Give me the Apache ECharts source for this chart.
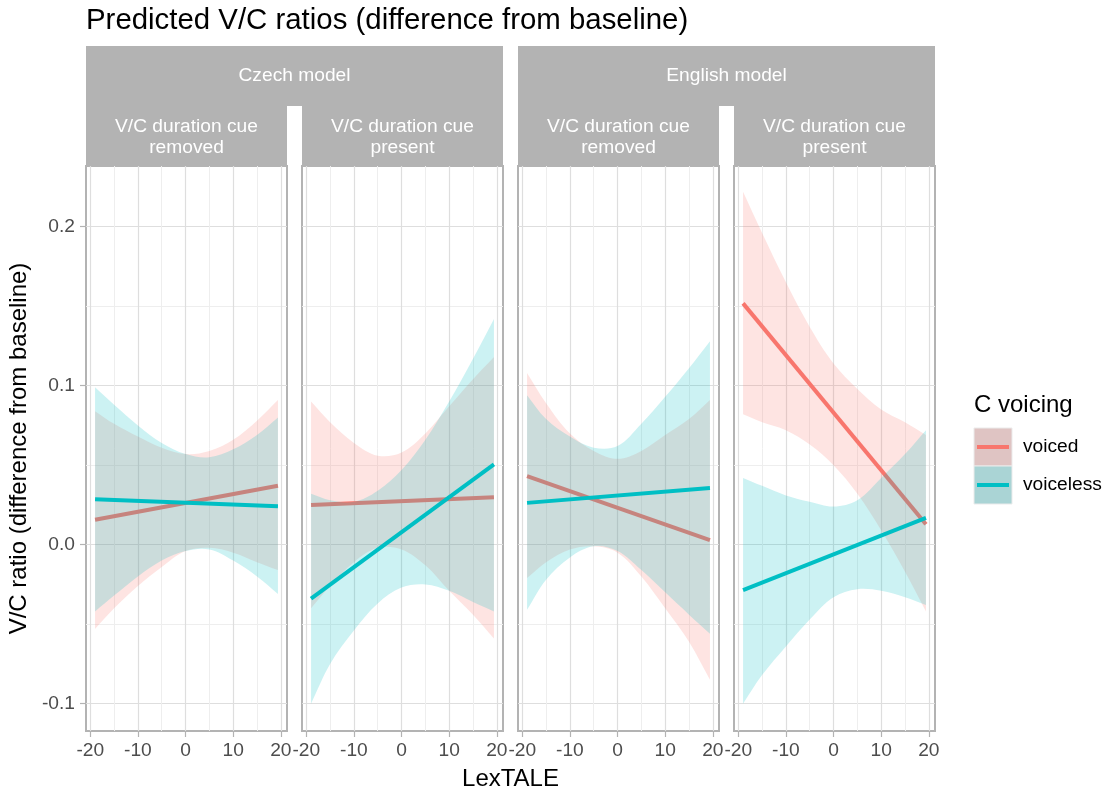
<!DOCTYPE html>
<html>
<head>
<meta charset="utf-8">
<script src="https://cdn.jsdelivr.net/npm/echarts@6.0.0/dist/echarts.min.js"></script>
<style>
html,body{margin:0;padding:0;background:#ffffff;}
#chart{width:1113px;height:791px;}
</style>
</head>
<body>
<div id="chart"></div>
<script>
// ---------------- data ----------------
const lexTALE = [-19.0, -15, -10, -5, 0, 5, 10, 15, 19.4];
const xTickLabels = [-20, -10, 0, 10, 20];
const xMinorBreaks = [-15, -5, 5, 15];
const yTickLabels = [-0.1, 0, 0.1, 0.2];
const yMinorBreaks = [-0.05, 0.05, 0.15];
const modelNames = ['Czech model', 'English model'];
const cueNames = ['V/C duration cue\nremoved', 'V/C duration cue\npresent'];
const voicingNames = ['voiced', 'voiceless'];
const legendTitle = 'C voicing';
const chartTitle = 'Predicted V/C ratios (difference from baseline)';
const xTitle = 'LexTALE';
const yTitle = 'V/C ratio (difference from baseline)';

// Czech model, cue removed
const czRemVoicedFit = [0.0157, 0.0371];
const czRemVoicedHi = [0.084, 0.076, 0.068, 0.061, 0.057, 0.059, 0.066, 0.078, 0.091];
const czRemVoicedLo = [-0.053, -0.040, -0.026, -0.014, -0.004, -0.002, -0.005, -0.011, -0.016];
const czRemVoicelessFit = [0.0286, 0.0241];
const czRemVoicelessHi = [0.099, 0.088, 0.075, 0.064, 0.057, 0.055, 0.060, 0.069, 0.080];
const czRemVoicelessLo = [-0.042, -0.032, -0.020, -0.010, -0.004, -0.003, -0.010, -0.020, -0.031];

// Czech model, cue present
const czPreVoicedFit = [0.0249, 0.0298];
const czPreVoicedHi = [0.090, 0.077, 0.064, 0.056, 0.058, 0.070, 0.087, 0.104, 0.118];
const czPreVoicedLo = [-0.040, -0.026, -0.011, -0.002, -0.003, -0.013, -0.029, -0.044, -0.059];
const czPreVoicelessFit = [-0.034, 0.0505];
const czPreVoicelessHi = [0.032, 0.028, 0.027, 0.034, 0.047, 0.066, 0.090, 0.117, 0.142];
const czPreVoicelessLo = [-0.100, -0.075, -0.054, -0.037, -0.027, -0.025, -0.029, -0.036, -0.042];

// English model, cue removed
const enRemVoicedFit = [0.0431, 0.0028];
const enRemVoicedHi = [0.108, 0.089, 0.070, 0.059, 0.054, 0.059, 0.069, 0.079, 0.091];
const enRemVoicedLo = [-0.021, -0.011, -0.003, -0.001, -0.005, -0.020, -0.040, -0.061, -0.085];
const enRemVoicelessFit = [0.0263, 0.0356];
const enRemVoicelessHi = [0.094, 0.079, 0.068, 0.061, 0.062, 0.076, 0.093, 0.111, 0.128];
const enRemVoicelessLo = [-0.041, -0.022, -0.008, -0.001, -0.004, -0.016, -0.030, -0.044, -0.056];

// English model, cue present
const enPreVoicedFit = [0.1518, 0.0128];
const enPreVoicedHi = [0.222, 0.196, 0.165, 0.137, 0.114, 0.098, 0.085, 0.077, 0.069];
const enPreVoicedLo = [0.082, 0.077, 0.072, 0.063, 0.050, 0.032, 0.009, -0.017, -0.042];
const enPreVoicelessFit = [-0.0286, 0.0168];
const enPreVoicelessHi = [0.042, 0.037, 0.031, 0.027, 0.024, 0.028, 0.042, 0.057, 0.072];
const enPreVoicelessLo = [-0.100, -0.082, -0.064, -0.047, -0.033, -0.028, -0.029, -0.033, -0.038];

// ---------------- layout / style ----------------
const FONT = '"Liberation Sans", Arial, Helvetica, sans-serif';
const COLORS = {voiced: '#F8766D', voiceless: '#00BFC4'};
const KEY_FILL = {voiced: '#DFC4C3', voiceless: '#AAD4D5'};
const PANEL_LEFT = [86, 302, 518, 734];
const PANEL_W = 201;
const PANEL_TOP = 166;
const PANEL_H = 565;
const X_MIN = -20.9, X_MAX = 21.3;
const Y_MIN = -0.1172, Y_MAX = 0.2382;

const panels = [
  {voiced: {fit: czRemVoicedFit, hi: czRemVoicedHi, lo: czRemVoicedLo},
   voiceless: {fit: czRemVoicelessFit, hi: czRemVoicelessHi, lo: czRemVoicelessLo}},
  {voiced: {fit: czPreVoicedFit, hi: czPreVoicedHi, lo: czPreVoicedLo},
   voiceless: {fit: czPreVoicelessFit, hi: czPreVoicelessHi, lo: czPreVoicelessLo}},
  {voiced: {fit: enRemVoicedFit, hi: enRemVoicedHi, lo: enRemVoicedLo},
   voiceless: {fit: enRemVoicelessFit, hi: enRemVoicelessHi, lo: enRemVoicelessLo}},
  {voiced: {fit: enPreVoicedFit, hi: enPreVoicedHi, lo: enPreVoicedLo},
   voiceless: {fit: enPreVoicelessFit, hi: enPreVoicelessHi, lo: enPreVoicelessLo}}
];

const grids = [], xAxes = [], yAxes = [], series = [];
for (let i = 0; i < 4; i++) {
  grids.push({left: PANEL_LEFT[i], top: PANEL_TOP, width: PANEL_W, height: PANEL_H,
    show: true, borderColor: '#B3B3B3', borderWidth: 2, backgroundColor: 'transparent',
    containLabel: false, outerBoundsMode: 'none'});
  xAxes.push({type: 'value', gridIndex: i, min: X_MIN, max: X_MAX,
    axisLine: {show: false, onZero: false},
    axisTick: {show: true, customValues: xTickLabels, length: 6, lineStyle: {color: '#B3B3B3', width: 1.2}},
    axisLabel: {show: true, customValues: xTickLabels, margin: 10, color: '#4D4D4D', fontSize: 19.2, fontFamily: FONT},
    splitLine: {show: true, lineStyle: {color: '#DEDEDE', width: 1.2}}});
  xAxes.push({type: 'value', gridIndex: i, min: X_MIN, max: X_MAX,
    axisLine: {show: false, onZero: false},
    axisTick: {show: false, customValues: xMinorBreaks},
    axisLabel: {show: false, customValues: xMinorBreaks},
    splitLine: {show: true, lineStyle: {color: '#EEEEEE', width: 1}}});
  yAxes.push({type: 'value', gridIndex: i, min: Y_MIN, max: Y_MAX,
    axisLine: {show: false, onZero: false},
    axisTick: {show: i === 0, customValues: yTickLabels, length: 6, lineStyle: {color: '#B3B3B3', width: 1.2}},
    axisLabel: {show: i === 0, customValues: yTickLabels, margin: 11, color: '#4D4D4D', fontSize: 19.2, fontFamily: FONT,
      formatter: v => v.toFixed(1)},
    splitLine: {show: true, lineStyle: {color: '#DEDEDE', width: 1.2}}});
  yAxes.push({type: 'value', gridIndex: i, min: Y_MIN, max: Y_MAX,
    axisLine: {show: false, onZero: false},
    axisTick: {show: false, customValues: yMinorBreaks},
    axisLabel: {show: false, customValues: yMinorBreaks},
    splitLine: {show: true, lineStyle: {color: '#EEEEEE', width: 1}}});

  voicingNames.forEach((g, gi) => {
    const d = panels[i][g];
    const zBase = 2 + gi * 2;
    series.push({
      type: 'custom', name: g, xAxisIndex: i * 2, yAxisIndex: i * 2, z: zBase, silent: true,
      data: [[lexTALE[0], d.lo[0]]], encode: {x: 0, y: 1}, clip: true,
      renderItem: function (params, api) {
        const n = lexTALE.length;
        const raw = [];
        for (let k = 0; k < n; k++) raw.push({p: api.coord([lexTALE[k], d.hi[k]]), corner: k === 0 || k === n - 1});
        for (let k = n - 1; k >= 0; k--) raw.push({p: api.coord([lexTALE[k], d.lo[k]]), corner: k === 0 || k === n - 1});
        const pts = [];
        raw.forEach(r => { pts.push(r.p); if (r.corner) pts.push([r.p[0], r.p[1]]); });
        return {type: 'polygon', shape: {points: pts, smooth: 0.35},
          style: {fill: COLORS[g], opacity: 0.2}};
      }
    });
    series.push({
      type: 'line', name: g, xAxisIndex: i * 2, yAxisIndex: i * 2, z: zBase + 1, silent: true,
      data: [[lexTALE[0], d.fit[0]], [lexTALE[lexTALE.length - 1], d.fit[1]]],
      symbol: 'none', lineStyle: {color: COLORS[g], width: 4, cap: 'butt'}
    });
  });
}

// ---------------- decorations (strips, titles, legend) ----------------
const graphics = [];
function txt(x, y, text, size, fill, align, extra) {
  return Object.assign({type: 'text', x: x, y: y, silent: true,
    style: {text: text, fontSize: size, fontFamily: FONT, fill: fill,
      align: align, textAlign: align, verticalAlign: 'middle', textVerticalAlign: 'middle', lineHeight: 21}}, extra || {});
}
graphics.push(txt(86, 21, chartTitle, 29.4, '#000000', 'left'));
graphics.push(txt(19, PANEL_TOP + PANEL_H / 2, yTitle, 24, '#000000', 'center', {rotation: Math.PI / 2}));
graphics.push(txt((PANEL_LEFT[0] + PANEL_LEFT[3] + PANEL_W) / 2, 779, xTitle, 24, '#000000', 'center'));
for (let m = 0; m < 2; m++) {
  const l = PANEL_LEFT[m * 2], r = PANEL_LEFT[m * 2 + 1] + PANEL_W;
  graphics.push({type: 'rect', silent: true, shape: {x: l, y: 46, width: r - l, height: 60}, style: {fill: '#B3B3B3'}});
  graphics.push(txt((l + r) / 2, 76, modelNames[m], 19.2, '#FFFFFF', 'center'));
  for (let c = 0; c < 2; c++) {
    const pl = PANEL_LEFT[m * 2 + c];
    graphics.push({type: 'rect', silent: true, shape: {x: pl, y: 105, width: PANEL_W, height: 61}, style: {fill: '#B3B3B3'}});
    graphics.push(txt(pl + PANEL_W / 2, 137, cueNames[c], 19.2, '#FFFFFF', 'center'));
  }
}
// legend
graphics.push(txt(974, 405, legendTitle, 24, '#000000', 'left'));
voicingNames.forEach((g, gi) => {
  const top = 428 + gi * 38;
  graphics.push({type: 'rect', silent: true, shape: {x: 974, y: top, width: 38, height: 38},
    style: {fill: KEY_FILL[g], stroke: '#EBEBEB', lineWidth: 1}});
  graphics.push({type: 'line', silent: true, shape: {x1: 977, y1: top + 19, x2: 1009, y2: top + 19},
    style: {stroke: COLORS[g], lineWidth: 4}});
  graphics.push(txt(1023, top + 19, g, 19.2, '#000000', 'left'));
});

const chart = echarts.init(document.getElementById('chart'), null, {renderer: 'canvas'});
chart.setOption({
  animation: false,
  backgroundColor: '#FFFFFF',
  textStyle: {fontFamily: FONT},
  grid: grids,
  xAxis: xAxes,
  yAxis: yAxes,
  series: series,
  graphic: {elements: graphics}
});
</script>
</body>
</html>
